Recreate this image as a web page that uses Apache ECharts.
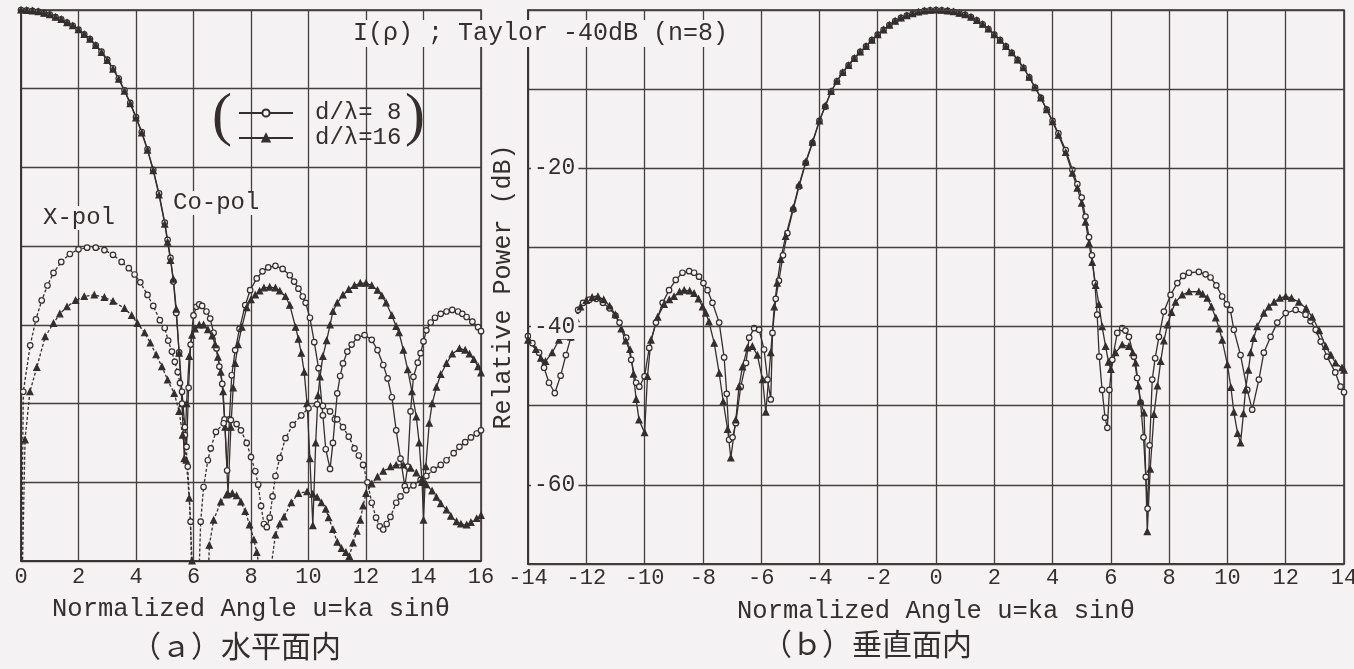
<!DOCTYPE html>
<html><head><meta charset="utf-8">
<script src="https://cdn.jsdelivr.net/npm/echarts@6/dist/echarts.min.js"></script>
<style>html,body{margin:0;padding:0;background:#f4f2f2;}#c{width:1354px;height:669px;}</style>
</head><body><div id="c"></div>
<script>
// ---- data: [u, dB] pairs ----
const hCo8 = [[0,0],[0.2,-0.05],[0.4,-0.1],[0.6,-0.2],[0.8,-0.4],[1.0,-0.6],[1.2,-0.9],[1.4,-1.2],[1.6,-1.6],[1.8,-2.0],[2.0,-2.5],[2.2,-3.1],[2.4,-3.7],[2.6,-4.5],[2.8,-5.3],[3.0,-6.3],[3.2,-7.4],[3.4,-8.7],[3.6,-10.2],[3.8,-11.8],[4.0,-13.6],[4.2,-15.5],[4.4,-17.7],[4.6,-20.3],[4.8,-23.3],[5.0,-27.0],[5.1,-29.2],[5.2,-31.5],[5.3,-34.5],[5.4,-38.5],[5.5,-43.5],[5.6,-48.5],[5.7,-53],[5.76,-55.5],[5.83,-48],[5.9,-42.5],[6.0,-38.8],[6.1,-37.7],[6.2,-37.4],[6.3,-37.6],[6.45,-38.3],[6.58,-39.2],[6.7,-41],[6.8,-43],[6.9,-45.3],[7.0,-47.5],[7.08,-52],[7.17,-58.5],[7.25,-52],[7.33,-46.4],[7.45,-43.2],[7.6,-40.5],[7.8,-37.5],[7.97,-35.6],[8.2,-34.1],[8.4,-33.2],[8.6,-32.7],[8.85,-32.5],[9.1,-32.9],[9.35,-33.7],[9.5,-34.5],[9.65,-35.4],[9.8,-36.4],[9.9,-37.2],[10.05,-39.1],[10.2,-42.2],[10.35,-45.5],[10.5,-51.5],[10.6,-55.8],[10.75,-58.3],[10.85,-55],[10.92,-52],[11.0,-48.7],[11.1,-46.5],[11.2,-44.9],[11.35,-43.4],[11.5,-42.5],[11.7,-41.6],[11.95,-41.3],[12.2,-41.9],[12.4,-43.2],[12.6,-45.1],[12.75,-46.8],[12.9,-49.2],[13.05,-53.4],[13.2,-57],[13.35,-60.5],[13.45,-58],[13.55,-51],[13.65,-46.6],[13.8,-44.8],[13.9,-43.6],[14.0,-42.1],[14.1,-40.7],[14.25,-39.7],[14.4,-39.1],[14.6,-38.6],[14.8,-38.3],[15.0,-38.1],[15.2,-38.3],[15.35,-38.6],[15.5,-39.0],[15.7,-39.6],[15.9,-40.3],[16.0,-40.8]];
const hCo16 = [[0,0],[0.2,-0.05],[0.4,-0.1],[0.6,-0.2],[0.8,-0.4],[1.0,-0.6],[1.2,-0.9],[1.4,-1.2],[1.6,-1.6],[1.8,-2.0],[2.0,-2.5],[2.2,-3.1],[2.4,-3.7],[2.6,-4.5],[2.8,-5.4],[3.0,-6.4],[3.2,-7.5],[3.4,-8.8],[3.6,-10.3],[3.8,-11.9],[4.0,-13.7],[4.2,-15.6],[4.4,-17.8],[4.6,-20.4],[4.8,-23.5],[5.0,-27.2],[5.1,-29.5],[5.2,-31.8],[5.3,-34.2],[5.4,-38],[5.5,-43.6],[5.6,-50],[5.68,-57],[5.76,-50],[5.85,-44],[5.95,-41.3],[6.05,-40.5],[6.2,-40.0],[6.35,-40.0],[6.5,-40.6],[6.65,-41.4],[6.75,-42.5],[6.85,-44.1],[6.95,-46],[7.03,-48.5],[7.1,-53],[7.2,-61.5],[7.3,-53],[7.38,-48],[7.45,-44.9],[7.55,-42.5],[7.68,-40.3],[7.85,-37.8],[8.0,-36.8],[8.15,-36.2],[8.3,-35.7],[8.45,-35.3],[8.65,-35.2],[8.85,-35.3],[9.0,-35.7],[9.2,-36.4],[9.35,-37.5],[9.55,-40.3],[9.65,-41.8],[9.75,-43.6],[9.85,-46],[9.95,-50],[10.05,-57],[10.15,-65.5],[10.25,-55],[10.33,-49],[10.4,-46.6],[10.5,-44],[10.63,-42],[10.75,-40],[10.85,-38.3],[11.0,-37.2],[11.2,-36.2],[11.4,-35.5],[11.6,-35],[11.8,-34.7],[12.0,-34.7],[12.2,-35],[12.4,-35.6],[12.55,-36.3],[12.7,-37.2],[12.9,-38.8],[13.05,-40.2],[13.15,-41],[13.3,-43.2],[13.45,-45.7],[13.6,-48.5],[13.75,-51.7],[13.85,-55],[13.95,-60],[14.0,-64.8],[14.08,-58],[14.2,-52.5],[14.3,-50],[14.45,-47.9],[14.6,-46.3],[14.8,-44.9],[15.0,-43.7],[15.25,-43.0],[15.45,-43.2],[15.6,-43.7],[15.75,-44.4],[15.9,-45.3],[16.0,-46.1]];
const hX8 = [[0,-80],[0.08,-48.5],[0.32,-42.6],[0.52,-39.3],[0.72,-36.9],[0.92,-35],[1.13,-33.4],[1.4,-32],[1.7,-31],[2.0,-30.4],[2.3,-30.2],[2.6,-30.2],[2.9,-30.5],[3.2,-31.1],[3.5,-32.0],[3.75,-32.8],[3.95,-33.6],[4.15,-34.6],[4.4,-36.2],[4.6,-37.6],[4.83,-39.4],[5.0,-40.4],[5.12,-42],[5.25,-43.4],[5.35,-44.7],[5.45,-46],[5.53,-47.4],[5.6,-50],[5.7,-54],[5.8,-58],[5.9,-65],[5.97,-80],[6.12,-80],[6.25,-65],[6.35,-60.6],[6.5,-57.2],[6.6,-55.7],[6.78,-53.6],[7.05,-52.5],[7.3,-52.1],[7.5,-52.6],[7.65,-53.4],[7.85,-55],[8.0,-56.8],[8.15,-58.6],[8.25,-60.3],[8.35,-63],[8.45,-65.3],[8.55,-65.7],[8.65,-64.5],[8.75,-61.8],[8.85,-59.2],[9.0,-56.9],[9.2,-54.4],[9.45,-52.7],[9.75,-51.5],[10.0,-50.6],[10.3,-50.1],[10.5,-50.3],[10.75,-51],[11.0,-52],[11.2,-53],[11.4,-54.2],[11.6,-55.7],[11.75,-56.6],[11.9,-57.8],[12.05,-60],[12.2,-62.6],[12.35,-64.5],[12.48,-65.6],[12.6,-66],[12.72,-65.3],[12.85,-64.4],[13.05,-62.6],[13.2,-61.8],[13.4,-61],[13.65,-60.4],[13.9,-59.7],[14.1,-59.2],[14.35,-58.4],[14.6,-57.8],[14.8,-57.2],[15.05,-56.3],[15.25,-55.5],[15.45,-54.9],[15.65,-54.3],[15.85,-53.8],[16.0,-53.4]];
const hX16 = [[0,-80],[0.14,-54.6],[0.31,-48.5],[0.55,-45.4],[0.84,-41.5],[1.13,-39.8],[1.35,-38.6],[1.6,-37.7],[1.9,-36.9],[2.2,-36.4],[2.55,-36.2],[2.9,-36.5],[3.2,-37],[3.6,-37.9],[3.85,-38.8],[4.05,-39.8],[4.3,-41],[4.5,-42.3],[4.7,-43.8],[4.9,-45.3],[5.1,-47],[5.33,-48.7],[5.5,-51],[5.62,-54],[5.75,-57.2],[5.85,-62],[5.95,-70],[6.02,-80],[6.45,-80],[6.55,-68],[6.7,-64.8],[6.95,-62.5],[7.15,-61.6],[7.35,-61.4],[7.5,-61.7],[7.65,-62.5],[7.8,-63.7],[7.95,-65.4],[8.1,-67.3],[8.2,-68.9],[8.35,-72],[8.5,-80],[8.65,-72],[8.85,-66.7],[9.0,-65.3],[9.15,-64.4],[9.4,-62.6],[9.65,-61.4],[9.95,-61.2],[10.15,-61.5],[10.3,-61.9],[10.45,-62.6],[10.6,-63.4],[10.7,-64.5],[10.85,-66],[11.0,-67.6],[11.15,-68.4],[11.3,-68.9],[11.42,-69.4],[11.55,-67.7],[11.68,-66.2],[11.8,-64.8],[11.9,-63],[12.0,-61.4],[12.2,-60.2],[12.4,-59.3],[12.6,-58.6],[12.85,-58],[13.05,-57.8],[13.3,-57.8],[13.55,-58.2],[13.75,-58.8],[13.95,-59.6],[14.1,-60.3],[14.3,-61.1],[14.45,-61.9],[14.6,-62.7],[14.8,-63.5],[14.95,-64.3],[15.15,-65],[15.3,-65.3],[15.5,-65.4],[15.65,-65.1],[15.85,-64.6],[16.0,-64.2]];
const vCo8 = [[-14,-41.2],[-13.85,-42.1],[-13.62,-43.3],[-13.45,-45.2],[-13.28,-47.1],[-13.08,-48.4],[-12.88,-46.2],[-12.7,-43.6],[-12.53,-41.4],[-12.4,-39.5],[-12.28,-37.9],[-12.11,-37.0],[-11.89,-36.6],[-11.66,-36.5],[-11.43,-37.0],[-11.2,-37.7],[-11.0,-38.6],[-10.86,-39.5],[-10.63,-41.4],[-10.46,-44.2],[-10.29,-47.1],[-10.18,-47.6],[-10.0,-46.3],[-9.84,-42.7],[-9.61,-39.5],[-9.38,-37.0],[-9.16,-35.4],[-8.93,-34.1],[-8.7,-33.2],[-8.47,-33.0],[-8.3,-33.2],[-8.13,-33.7],[-7.98,-34.5],[-7.84,-35.4],[-7.67,-37.0],[-7.44,-39.5],[-7.27,-43.9],[-7.18,-48.5],[-7.1,-54.3],[-6.98,-54],[-6.87,-52.2],[-6.7,-47.6],[-6.52,-44.6],[-6.41,-41.4],[-6.24,-40.2],[-6.07,-40.4],[-5.9,-42.9],[-5.78,-46.7],[-5.67,-49.2],[-5.61,-40.8],[-5.5,-36.5],[-5.39,-34.2],[-5.25,-31],[-5.1,-28.2],[-4.9,-25.2],[-4.7,-22.3],[-4.47,-19.3],[-4.24,-16.8],[-4.0,-14.0],[-3.8,-12.2],[-3.6,-10.3],[-3.4,-9.0],[-3.2,-7.9],[-3.0,-7.0],[-2.8,-6.1],[-2.6,-5.3],[-2.4,-4.6],[-2.2,-3.8],[-2.0,-3.1],[-1.8,-2.5],[-1.6,-1.9],[-1.4,-1.4],[-1.2,-1.0],[-1.0,-0.7],[-0.8,-0.45],[-0.6,-0.25],[-0.4,-0.1],[-0.2,-0.03],[0,0],[0.2,-0.03],[0.4,-0.1],[0.6,-0.22],[0.8,-0.4],[1.0,-0.6],[1.2,-0.9],[1.4,-1.3],[1.6,-1.8],[1.8,-2.4],[2.0,-3.1],[2.2,-3.8],[2.4,-4.6],[2.6,-5.4],[2.8,-6.3],[3.0,-7.3],[3.2,-8.5],[3.4,-9.8],[3.6,-11.1],[3.8,-12.6],[4.0,-14.0],[4.2,-15.6],[4.45,-17.7],[4.68,-20.2],[4.85,-22.0],[5.0,-23.7],[5.13,-26.1],[5.25,-28.7],[5.35,-31.0],[5.45,-34.5],[5.53,-38.5],[5.6,-43.8],[5.7,-48],[5.8,-51.5],[5.88,-52.8],[5.95,-48],[6.05,-44.2],[6.22,-40.8],[6.39,-40.2],[6.5,-40.5],[6.62,-41.3],[6.79,-43.8],[6.9,-46.5],[7.02,-49.6],[7.12,-54],[7.2,-59],[7.26,-63],[7.33,-55],[7.42,-46.7],[7.52,-44],[7.65,-41.3],[7.82,-38.1],[8.05,-36.0],[8.28,-34.5],[8.48,-33.6],[8.68,-33.2],[9.02,-33.1],[9.25,-33.4],[9.42,-33.8],[9.62,-34.8],[9.82,-36.2],[9.98,-37.2],[10.1,-37.9],[10.22,-40.4],[10.45,-43.6],[10.68,-48.0],[10.85,-50.5],[11.08,-46.7],[11.25,-43.3],[11.48,-41.3],[11.71,-39.5],[12.0,-38.3],[12.34,-37.9],[12.68,-38.5],[12.85,-39.3],[13.03,-40.4],[13.2,-41.9],[13.42,-43.8],[13.7,-45.8],[13.88,-47.6],[14.0,-48.3]];
const vCo16 = [[-14,-41.7],[-13.73,-42.9],[-13.56,-44.0],[-13.4,-44.4],[-13.17,-43.3],[-12.94,-41.7],[-12.75,-41.2],[-12.53,-41.3],[-12.35,-39],[-12.2,-37.5],[-12.0,-36.7],[-11.8,-36.3],[-11.6,-36.2],[-11.4,-36.6],[-11.2,-37.4],[-11.0,-38.5],[-10.8,-40.3],[-10.65,-41.8],[-10.5,-42.9],[-10.38,-46],[-10.29,-49.2],[-10.19,-51.8],[-10.0,-53.4],[-9.9,-46.3],[-9.78,-41.7],[-9.55,-38.8],[-9.33,-37.2],[-9.15,-36.6],[-8.99,-36.2],[-8.8,-35.6],[-8.64,-35.4],[-8.45,-35.5],[-8.3,-35.8],[-8.15,-36.5],[-8.01,-37.5],[-7.9,-38.3],[-7.79,-39.4],[-7.61,-42.1],[-7.44,-45.9],[-7.3,-49.5],[-7.15,-53],[-7.04,-56.6],[-6.87,-51.8],[-6.76,-47.6],[-6.64,-45.1],[-6.47,-42.7],[-6.3,-42.5],[-6.13,-43.6],[-5.95,-46.7],[-5.84,-50.8],[-5.67,-43.3],[-5.55,-37.5],[-5.45,-34.5],[-5.33,-31.5],[-5.16,-28.6],[-4.9,-25.0],[-4.7,-22.1],[-4.47,-19.2],[-4.24,-16.7],[-4.0,-14.0],[-3.8,-12.1],[-3.6,-10.3],[-3.4,-9.0],[-3.2,-7.9],[-3.0,-7.0],[-2.8,-6.1],[-2.6,-5.3],[-2.4,-4.6],[-2.2,-3.8],[-2.0,-3.1],[-1.8,-2.5],[-1.6,-1.9],[-1.4,-1.4],[-1.2,-1.0],[-1.0,-0.7],[-0.8,-0.45],[-0.6,-0.25],[-0.4,-0.1],[-0.2,-0.03],[0,0],[0.2,-0.03],[0.4,-0.1],[0.6,-0.22],[0.8,-0.4],[1.0,-0.6],[1.2,-0.9],[1.4,-1.3],[1.6,-1.8],[1.8,-2.4],[2.0,-3.1],[2.2,-3.8],[2.4,-4.6],[2.6,-5.4],[2.8,-6.3],[3.0,-7.3],[3.2,-8.5],[3.4,-9.8],[3.6,-11.1],[3.8,-12.6],[4.0,-14.1],[4.2,-15.8],[4.45,-18.0],[4.68,-20.6],[4.85,-22.5],[5.0,-24.4],[5.13,-26.8],[5.25,-29.5],[5.36,-31.9],[5.48,-34.8],[5.59,-37.2],[5.7,-40],[5.82,-42.5],[5.92,-44.5],[6.0,-45.4],[6.16,-43.3],[6.39,-42.3],[6.62,-42.5],[6.75,-43.3],[6.85,-44.6],[6.95,-47.5],[7.02,-49.5],[7.14,-50.9],[7.25,-65.9],[7.35,-58],[7.48,-51.1],[7.6,-47.5],[7.71,-44.4],[7.82,-41.8],[7.94,-39.8],[8.08,-38.2],[8.22,-36.9],[8.45,-36.0],[8.68,-35.6],[9.02,-35.6],[9.15,-35.9],[9.31,-36.4],[9.45,-37.5],[9.6,-38.9],[9.72,-40.3],[9.82,-41.7],[10.0,-44.8],[10.12,-47.7],[10.22,-50.8],[10.35,-53.5],[10.45,-54.7],[10.55,-51],[10.62,-48],[10.72,-45.5],[10.8,-43.3],[10.9,-41.5],[11.02,-40],[11.25,-38.3],[11.42,-37.5],[11.6,-36.9],[11.8,-36.4],[12.0,-36.2],[12.2,-36.4],[12.45,-36.9],[12.7,-37.7],[12.91,-38.8],[13.15,-40.5],[13.37,-42.5],[13.55,-43.6],[13.71,-44.6],[13.93,-45.2],[14.0,-45.5]];
const legendNames = ['d/λ= 8', 'd/λ=16'];
const yLabelsV = [-20, -40, -60];
const titleText = 'I(ρ) ; Taylor -40dB (n=8)';
const xName = 'Normalized Angle u=ka sinθ';
const yName = 'Relative Power (dB)';
const captionA = '（ａ）水平面内';
const captionB = '（ｂ）垂直面内';

// ---- styling ----
const BG = '#f4f2f2', INK = '#342e2e', GRID = '#463f3f';
const MONO = '"Liberation Mono", "DejaVu Sans Mono", monospace';
const CJK = '"Noto Sans CJK JP", "Noto Sans CJK SC", sans-serif';

function mk(name, data, idx, sym, dashed) {
  return {
    name: name, type: 'line', xAxisIndex: idx, yAxisIndex: idx, data: data,
    symbol: sym, symbolSize: sym === 'triangle' ? 6 : 5.5, showSymbol: true,
    clip: true, animation: false, z: 2,
    lineStyle: { color: INK, width: 1.3, type: dashed ? [3, 2] : 'solid' },
    itemStyle: { color: sym === 'triangle' ? INK : BG, borderColor: INK, borderWidth: 1.2 },
    emphasis: { disabled: true }
  };
}
function xAx(idx, min, max, margin, gap) {
  return {
    gridIndex: idx, type: 'value', min: min, max: max, interval: 2,
    axisLine: { show: true, onZero: false, lineStyle: { color: INK, width: 1.5 } },
    axisTick: { show: false },
    splitLine: { show: true, lineStyle: { color: GRID, width: 1.3 } },
    axisLabel: { fontFamily: MONO, fontSize: 22, color: INK, margin: margin, showMinLabel: true, showMaxLabel: true, hideOverlap: false },
    name: xName, nameLocation: 'middle', nameGap: gap,
    nameTextStyle: { fontFamily: MONO, fontSize: 25.5, color: INK }
  };
}
const chart = echarts.init(document.getElementById('c'), null, { renderer: 'canvas' });
chart.setOption({
  backgroundColor: BG,
  animation: false,
  title: { text: titleText, left: 349, top: 20, padding: [1, 4], backgroundColor: BG,
    textStyle: { fontFamily: MONO, fontSize: 25, fontWeight: 'normal', color: INK } },
  legend: { data: legendNames, orient: 'vertical', left: 233, top: 96, itemWidth: 54, itemHeight: 9, itemGap: 1,
    selectedMode: false, textStyle: { fontFamily: MONO, fontSize: 24, color: INK, padding: [0, 0, 0, 17] } },
  grid: [
    { left: 21, top: 10, width: 460, height: 551, show: true, borderColor: INK, borderWidth: 1.5, backgroundColor: 'transparent', outerBoundsMode: 'none' },
    { left: 528, top: 10, width: 816, height: 554, show: true, borderColor: INK, borderWidth: 1.5, backgroundColor: 'transparent', outerBoundsMode: 'none' }
  ],
  xAxis: [ xAx(0, 0, 16, 5, 35), xAx(1, -14, 14, 3, 34) ],
  yAxis: [
    { gridIndex: 0, type: 'value', min: -70, max: 0, interval: 10,
      axisLine: { show: true, onZero: false, lineStyle: { color: INK, width: 1.5 } }, axisTick: { show: false },
      axisLabel: { show: false }, splitLine: { show: true, lineStyle: { color: GRID, width: 1.3 } } },
    { gridIndex: 1, type: 'value', min: -70, max: 0, interval: 10, z: 5,
      axisLine: { show: true, onZero: false, lineStyle: { color: INK, width: 1.5 } }, axisTick: { show: false },
      splitLine: { show: true, lineStyle: { color: GRID, width: 1.3 } },
      axisLabel: { inside: true, margin: 3, showMinLabel: true, showMaxLabel: true,
        formatter: function (v) { return yLabelsV.indexOf(v) >= 0 ? '{b|' + v + '}' : ''; },
        rich: { b: { backgroundColor: BG, padding: [1, 3], fontFamily: MONO, fontSize: 23, color: INK } } },
      name: yName, nameLocation: 'middle', nameRotate: 90, nameGap: 12,
      nameTextStyle: { fontFamily: MONO, fontSize: 25, color: INK } }
  ],
  graphic: [
    { type: 'text', left: 212, top: 88, z: 10, style: { text: '(', font: '60px "Liberation Serif"', fill: INK } },
    { type: 'text', left: 405, top: 88, z: 10, style: { text: ')', font: '60px "Liberation Serif"', fill: INK } },
    { type: 'text', x: 42, y: 218, z: 10, style: { text: 'X-pol', font: '24px ' + MONO, fill: INK, verticalAlign: 'middle', backgroundColor: BG, padding: [0, 1] } },
    { type: 'text', x: 172, y: 203, z: 10, style: { text: 'Co-pol', font: '24px ' + MONO, fill: INK, verticalAlign: 'middle', backgroundColor: BG, padding: [0, 1] } },
    { type: 'text', x: 236, y: 646, z: 10, style: { text: captionA, font: '30px ' + CJK, fill: INK, align: 'center', verticalAlign: 'middle' } },
    { type: 'text', x: 867, y: 644, z: 10, style: { text: captionB, font: '30px ' + CJK, fill: INK, align: 'center', verticalAlign: 'middle' } }
  ],
  series: [
    mk(legendNames[0], hCo8, 0, 'circle', false),
    mk(legendNames[1], hCo16, 0, 'triangle', false),
    mk('X-pol d/λ=8', hX8, 0, 'circle', true),
    mk('X-pol d/λ=16', hX16, 0, 'triangle', true),
    mk('V d/λ=8', vCo8, 1, 'circle', false),
    mk('V d/λ=16', vCo16, 1, 'triangle', false)
  ]
});
</script></body></html>
